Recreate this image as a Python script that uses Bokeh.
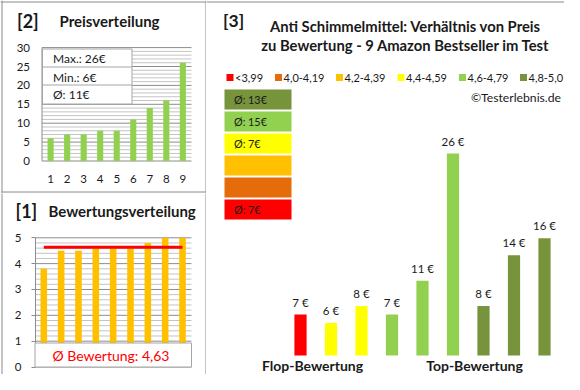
from bokeh.plotting import figure
from bokeh.models import LinearAxis, FixedTicker, Range1d, AllLabels
from bokeh.layouts import row, column
from bokeh.embed import file_html
from bokeh.resources import INLINE
from bokeh.core.properties import value

# ---------------- DATA ----------------
price_positions = [1, 2, 3, 4, 5, 6, 7, 8, 9]
prices_sorted = [6, 7, 7, 8, 8, 11, 14, 16, 26]
price_ticks = [0, 5, 10, 15, 20, 25, 30]

rating_positions = [1, 2, 3, 4, 5, 6, 7, 8, 9]
ratings_sorted = [3.8, 4.5, 4.5, 4.6, 4.6, 4.6, 4.8, 5.0, 5.0]
rating_ticks = [0, 1, 2, 3, 4, 5]
avg_rating = 4.63
avg_rating_text = "4,63"

product_positions = [1, 2, 3, 4, 5, 6, 7, 8, 9]
product_prices = [7, 6, 8, 7, 11, 26, 8, 14, 16]
product_class = [0, 3, 3, 4, 4, 4, 5, 5, 5]
class_labels = ["<3,99", "4,0-4,19", "4,2-4,39", "4,4-4,59", "4,6-4,79", "4,8-5,0"]
class_colors = ["#FF0000", "#E46C0A", "#FFC000", "#FFFF00", "#92D050", "#77933C"]
group_labels = ["Flop-Bewertung", "Top-Bewertung"]
title_lines = ["Anti Schimmelmittel: Verhältnis von Preis",
               "zu Bewertung - 9 Amazon Bestseller im Test"]
copyright_text = "©Testerlebnis.de"

# ---------------- STYLE / LAYOUT ----------------
FONT = value("Lato")
TXT = "#1a1a1a"
BORDER = "#8a8a8a"
GRID_MINOR = "#c4c4c4"
GRID_MAJOR = "#8c8c8c"
PRICE_GREEN = "#92D050"
RATING_ORANGE = "#FFC000"


class Mapper:
    """maps page pixel positions to data coordinates of a figure"""
    def __init__(self, left, top, w, h, xv, xX, xs, yv, yY, ys):
        self.left, self.top, self.w, self.h = left, top, w, h
        self.xs, self.ys = xs, ys
        self.x0 = xv - (xX - left) / xs
        self.x1 = self.x0 + w / xs
        self.y1 = yv + (yY - top) / ys
        self.y0 = self.y1 - h / ys

    def X(self, px):
        return self.x0 + (px - self.left) / self.xs

    def Y(self, py):
        return self.y1 - (py - self.top) / self.ys


def make_fig(m):
    p = figure(width=m.w, height=m.h,
               x_range=Range1d(m.x0, m.x1), y_range=Range1d(m.y0, m.y1),
               x_axis_location=None, y_axis_location=None,
               toolbar_location=None, tools="", output_backend="svg",
               min_border=0, min_border_left=0, min_border_right=0,
               min_border_top=0, min_border_bottom=0,
               outline_line_color=None, background_fill_color="white",
               border_fill_color="white")
    p.grid.visible = False
    return p


def ptext(p, x, y, texts, size, bold=False, color=TXT, align="left"):
    p.text(x=x, y=y, text=texts, text_font=FONT, text_font_size=size,
           text_font_style="bold" if bold else "normal", text_color=color,
           text_align=align, text_baseline="middle")


def lines(p, m, pts, color=BORDER, width=1):
    p.segment(x0=[m.X(a) for a, b, c, d in pts], y0=[m.Y(b) for a, b, c, d in pts],
              x1=[m.X(c) for a, b, c, d in pts], y1=[m.Y(d) for a, b, c, d in pts],
              line_color=color, line_width=width)


def grid_lines(p, m, xl, xr, lo, hi, step, major_every):
    n = int(round((hi - lo) / step))
    ys_minor, ys_major = [], []
    for i in range(1, n + 1):
        v = lo + i * step
        (ys_major if i % major_every == 0 else ys_minor).append(v)
    p.segment(x0=[m.X(xl)] * len(ys_minor), x1=[m.X(xr)] * len(ys_minor),
              y0=ys_minor, y1=ys_minor, line_color=GRID_MINOR, line_width=1)
    p.segment(x0=[m.X(xl)] * len(ys_major), x1=[m.X(xr)] * len(ys_major),
              y0=ys_major, y1=ys_major, line_color=GRID_MAJOR, line_width=1)
    p.segment(x0=[m.X(xl), m.X(xl)], x1=[m.X(xr), m.X(xl)],
              y0=[lo, lo], y1=[lo, hi], line_color=GRID_MAJOR, line_width=1)


def tick_axis(ticks, loc, standoff, tick_out=0):
    return LinearAxis(ticker=FixedTicker(ticks=ticks), fixed_location=loc,
                      axis_line_color=None, major_label_policy=AllLabels(),
                      major_tick_line_color=GRID_MAJOR if tick_out else None,
                      major_tick_in=0, major_tick_out=tick_out,
                      minor_tick_line_color=None, major_label_standoff=standoff,
                      major_label_text_font="Lato", major_label_text_font_size="11.5px",
                      major_label_text_color=TXT)


# =============== Panel [2] Preisverteilung ===============
m2 = Mapper(0, 0, 206, 193, 1, 50.1, 16.53, 0, 160.5, 3.78)
p2 = make_fig(m2)
grid_lines(p2, m2, 41.5, 191, price_ticks[0], price_ticks[-1], 1, 5)
p2.vbar(x=price_positions, top=prices_sorted, bottom=0, width=0.37,
        fill_color=PRICE_GREEN, line_color=None)
p2.quad(left=[m2.X(42)], right=[m2.X(131.5)], top=[m2.Y(48.5)], bottom=[m2.Y(103.5)],
        fill_color="white", line_color="#a6a6a6", line_width=1)
lines(p2, m2, [(42, 66.5, 131.5, 66.5), (42, 84.5, 131.5, 84.5)], color="#a6a6a6")
pmax, pmin = max(prices_sorted), min(prices_sorted)
pavg = round(sum(prices_sorted) / len(prices_sorted))
ptext(p2, [m2.X(52.5)] * 3, [m2.Y(58), m2.Y(76.5), m2.Y(93.5)],
      [f"Max.: {pmax}€", f"Min.: {pmin}€", f"Ø: {pavg}€"], "12px")
ptext(p2, [m2.X(16.5)], [m2.Y(20)], ["[2]"], "18px", bold=True)
ptext(p2, [m2.X(59)], [m2.Y(20)], ["Preisverteilung"], "15px", bold=True)
lines(p2, m2, [(1.5, 0, 1.5, 193), (0, 1.5, 206, 1.5),
               (205.5, 0, 205.5, 193), (1, 191.5, 205.5, 191.5)])
p2.add_layout(tick_axis(price_ticks, m2.X(41.5), 12), "left")
p2.add_layout(tick_axis(price_positions, 0, 14), "below")

# =============== Panel [1] Bewertungsverteilung ===============
m1 = Mapper(0, 193, 206, 181, 1, 43.3, 17.34, 0, 366.5, 25.84)
p1 = make_fig(m1)
grid_lines(p1, m1, 35, 191, rating_ticks[0], rating_ticks[-1], 0.2, 5)
p1.vbar(x=rating_positions, top=ratings_sorted, bottom=0, width=0.38,
        fill_color=RATING_ORANGE, line_color=None)
p1.segment(x0=[rating_positions[0]], x1=[rating_positions[-1]],
           y0=[avg_rating], y1=[avg_rating], line_color="#FF0000", line_width=3)
p1.quad(left=[m1.X(34.5)], right=[m1.X(191)], top=[m1.Y(342.5)], bottom=[m1.Y(366.5)],
        fill_color="white", line_color="#a6a6a6", line_width=1)
ptext(p1, [m1.X(110.5)], [m1.Y(355)], [f"Ø Bewertung: {avg_rating_text}"], "14px",
      color="#FF0000", align="center")
ptext(p1, [m1.X(15)], [m1.Y(210)], ["[1]"], "18px", bold=True)
ptext(p1, [m1.X(48)], [m1.Y(210)], ["Bewertungsverteilung"], "15px", bold=True)
lines(p1, m1, [(1.5, 193, 1.5, 374), (205.5, 193, 205.5, 374)])
p1.add_layout(tick_axis(rating_ticks, m1.X(35), 10, tick_out=4), "left")

# =============== Panel [3] Preis / Bewertung ===============
AXIS_MIN = 2.16
m3 = Mapper(206, 0, 358, 374, 1, 300, 30.5, AXIS_MIN, 355, 8.47)
p3 = make_fig(m3)
bar_colors = [class_colors[c] for c in product_class]
p3.vbar(x=product_positions, top=product_prices, bottom=AXIS_MIN, width=0.4,
        fill_color=bar_colors, line_color=None)
p3.text(x=product_positions, y=product_prices, text=[f"{v} €" for v in product_prices],
        text_font=FONT, text_font_size="11.5px", text_color=TXT, text_align="center",
        text_baseline="middle", y_offset=-12.5)
ptext(p3, [m3.X(312), m3.X(474)], [m3.Y(365), m3.Y(365)], group_labels, "14px",
      bold=True, align="center")
ptext(p3, [m3.X(222.5)], [m3.Y(20)], ["[3]"], "17.5px", bold=True)
ptext(p3, [m3.X(405)] * 2, [m3.Y(25), m3.Y(44.5)], title_lines, "14.8px",
      bold=True, align="center")
lines(p3, m3, [(206, 1.5, 564, 1.5)])
# legend
LEG_X = [226, 274.5, 335.5, 397, 458.5, 519.5]
p3.quad(left=[m3.X(x) for x in LEG_X], right=[m3.X(x + 7) for x in LEG_X],
        top=[m3.Y(73.5)] * 6, bottom=[m3.Y(80.5)] * 6,
        fill_color=class_colors, line_color=None)
ptext(p3, [m3.X(x + 8.5) for x in LEG_X], [m3.Y(77)] * 6, class_labels, "11px")
ptext(p3, [m3.X(560.5)], [m3.Y(97)], [copyright_text], "12.2px", align="right")
# class average boxes (top: best class)
order = list(range(len(class_labels)))[::-1]
box_tops = [89 + 22 * i for i in range(len(order))]
box_labels = []
for c in order:
    vals = [v for v, k in zip(product_prices, product_class) if k == c]
    box_labels.append(f"Ø: {round(sum(vals) / len(vals))}€" if vals else "")
p3.quad(left=[m3.X(224)] * 6, right=[m3.X(291)] * 6,
        top=[m3.Y(t) for t in box_tops], bottom=[m3.Y(t + 20) for t in box_tops],
        fill_color=[class_colors[c] for c in order], line_color=None)
ptext(p3, [m3.X(233.5)] * 6, [m3.Y(t + 10) for t in box_tops], box_labels, "10.8px")

layout = row(column(p2, p1, spacing=0), p3, spacing=0)
open("out.html", "w").write(file_html(layout, INLINE))
